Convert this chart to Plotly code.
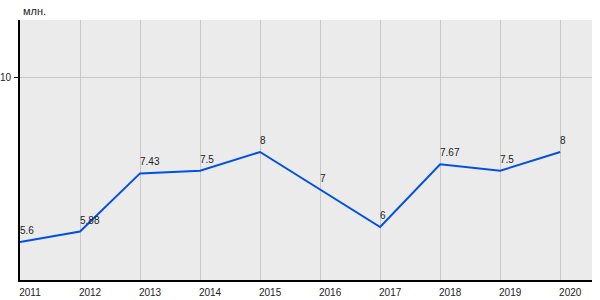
import plotly.graph_objects as go

years = [2011, 2012, 2013, 2014, 2015, 2016, 2017, 2018, 2019, 2020]
values = [5.6, 5.88, 7.43, 7.5, 8, 7, 6, 7.67, 7.5, 8]
labels = ["5.6", "5.88", "7.43", "7.5", "8", "7", "6", "7.67", "7.5", "8"]
unit = "млн."

font = "Liberation Sans, Arial, sans-serif"

fig = go.Figure()
fig.add_trace(go.Scatter(
    x=years, y=values, mode="lines",
    line=dict(color="#0050e6", width=2),
    hoverinfo="skip", showlegend=False,
))

annotations = [dict(
    text=t, x=x, y=y, xref="x", yref="y",
    xanchor="left", yanchor="bottom", yshift=4, xshift=-2, showarrow=False,
    font=dict(size=10, color="#222", family=font),
) for x, y, t in zip(years, values, labels)]

annotations.append(dict(
    text=unit, x=0, y=1, xref="paper", yref="paper",
    xanchor="left", yanchor="bottom", yshift=1, xshift=1, showarrow=False,
    font=dict(size=11, color="#222", family=font),
))

fig.update_layout(
    width=600, height=300,
    margin=dict(l=20, r=8, t=20, b=20),
    paper_bgcolor="white", plot_bgcolor="#ebebeb",
    font=dict(family=font, size=10, color="#222"),
    xaxis=dict(
        range=[2011, 2020.53], tickvals=years, ticktext=[str(y) for y in years],
        showgrid=True, gridcolor="#c8c8c8", gridwidth=1,
        showline=True, linecolor="black", linewidth=2,
        ticks="", ticklabelshift=10, ticklabelstandoff=2,
        zeroline=False, fixedrange=True, automargin=False,
    ),
    yaxis=dict(
        range=[4.587, 11.52], tickvals=[10], ticktext=["10"],
        showgrid=True, gridcolor="#c8c8c8", gridwidth=1,
        showline=True, linecolor="black", linewidth=2,
        ticks="outside", ticklen=4, tickcolor="black", tickwidth=1,
        ticklabelstandoff=1,
        zeroline=False, fixedrange=True, automargin=False,
    ),
    annotations=annotations,
)

fig.write_html("out.html")
